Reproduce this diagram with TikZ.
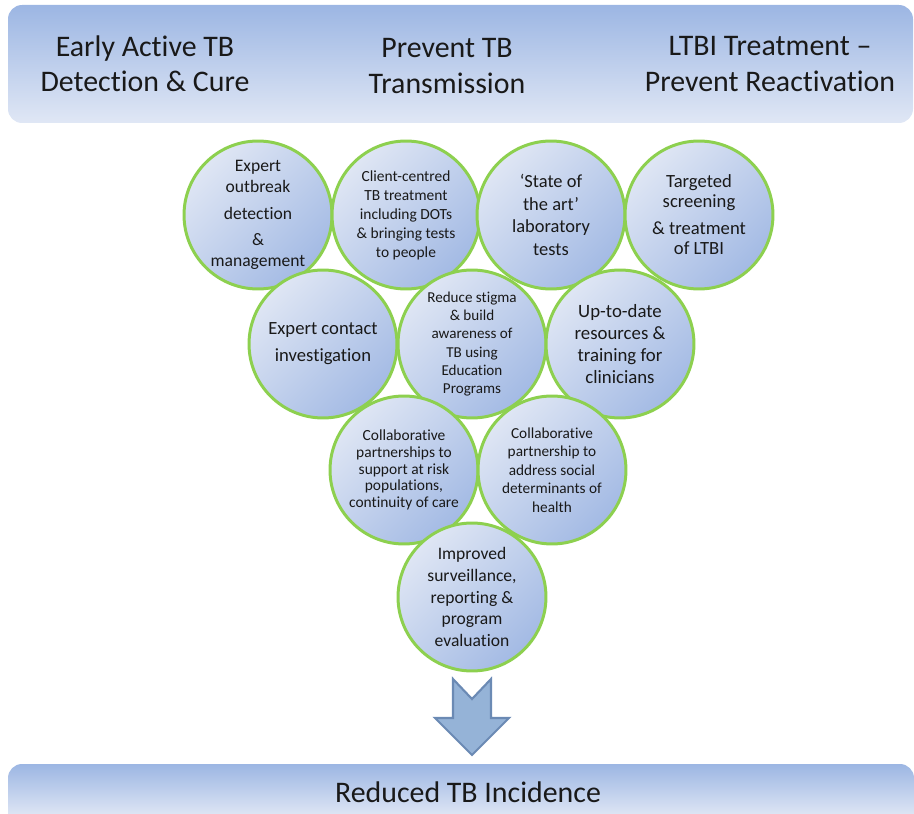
\documentclass[tikz,border=0pt]{standalone}
\usepackage{fontspec}
\setmainfont[Ligatures=NoCommon]{Carlito}

\definecolor{bandtop}{HTML}{9CB6E3}
\definecolor{bandbottom}{HTML}{E0E7F5}
\definecolor{bubblelight}{HTML}{DFE6F4}
\definecolor{bubbledark}{HTML}{A3BAE4}
\definecolor{bubblegreen}{HTML}{8DD04F}
\definecolor{arrowfill}{HTML}{95B3D7}
\definecolor{arrowline}{HTML}{6B8AB4}

\tikzset{
  bubble/.style={circle, draw=bubblegreen, line width=1.7pt, minimum size=2.96cm,
    inner sep=0pt, align=center, top color=bubblelight, bottom color=bubbledark,
    shading angle=45, text=black!90},
  bandtext/.style={align=center, font=\fontsize{17}{20}\selectfont, text=black!90}
}

\begin{document}
\begin{tikzpicture}[x=0.02cm, y=-0.02cm]
\useasboundingbox (0,0) rectangle (914,814);

% bandes de dalt i de baix
\shade[rounded corners=8pt, top color=bandtop, bottom color=bandbottom] (8,5) rectangle (913,123);
\shade[top color=bandtop, bottom color=bandbottom!95!bandtop] (8,814) {[rounded corners=8pt] -- (8,764) -- (914,764)} -- (914,814) -- cycle;

\node[bandtext] (early) at (145,64) {Early Active TB\\Detection \& Cure};
\node[bandtext] (prevent) at (447,66) {Prevent TB\\Transmission};
\node[bandtext] (ltbi) at (770,64) {LTBI Treatment –\\Prevent Reactivation};
\node[bandtext] (reduced) at (468,792) {Reduced TB Incidence};

% fila 1
\node[bubble, font=\fontsize{10}{12}\selectfont] (outbreak) at (258,215)
  {Expert\\outbreak\\[3pt]detection\\[3pt]\&\\management};
\node[bubble, font=\fontsize{8.8}{10.8}\selectfont] (clientcare) at (406,215)
  {Client-centred\\TB treatment\\including DOTs\\\& bringing tests\\to people};
\node[bubble, font=\fontsize{10.5}{12.9}\selectfont] (labtests) at (551,215)
  {‘State of\\the art’\\laboratory\\tests};
\node[bubble, font=\fontsize{10.6}{11.4}\selectfont] (screening) at (699,215)
  {Targeted\\screening\\[4pt]\& treatment\\of LTBI};

% fila 2
\node[bubble, font=\fontsize{10.6}{15.3}\selectfont] (contact) at (323,344)
  {Expert contact\\investigation};
\node[bubble, font=\fontsize{8.6}{10.4}\selectfont] (stigma) at (472,344)
  {Reduce stigma\\\& build\\awareness of\\TB using\\Education\\Programs};
\node[bubble, font=\fontsize{10.7}{12.6}\selectfont] (resources) at (620,344)
  {Up-to-date\\resources \&\\training for\\clinicians};

% fila 3
\node[bubble, font=\fontsize{8.8}{9.6}\selectfont] (riskpop) at (404,470)
  {Collaborative\\partnerships to\\support at risk\\populations,\\continuity of care};
\node[bubble, font=\fontsize{8.7}{10.6}\selectfont] (socialdet) at (552,470)
  {Collaborative\\partnership to\\address social\\determinants of\\health};

% fila 4
\node[bubble, font=\fontsize{10}{12.5}\selectfont] (surveillance) at (472,597)
  {Improved\\surveillance,\\reporting \&\\program\\evaluation};

% fletxa cap avall
\draw[arrowline, fill=arrowfill, line width=1.2pt, line join=miter]
  (453,679) -- (472,699) -- (491,679) -- (491,718) -- (509,718) -- (472,755)
  -- (435,718) -- (453,718) -- cycle;

\end{tikzpicture}
\end{document}
